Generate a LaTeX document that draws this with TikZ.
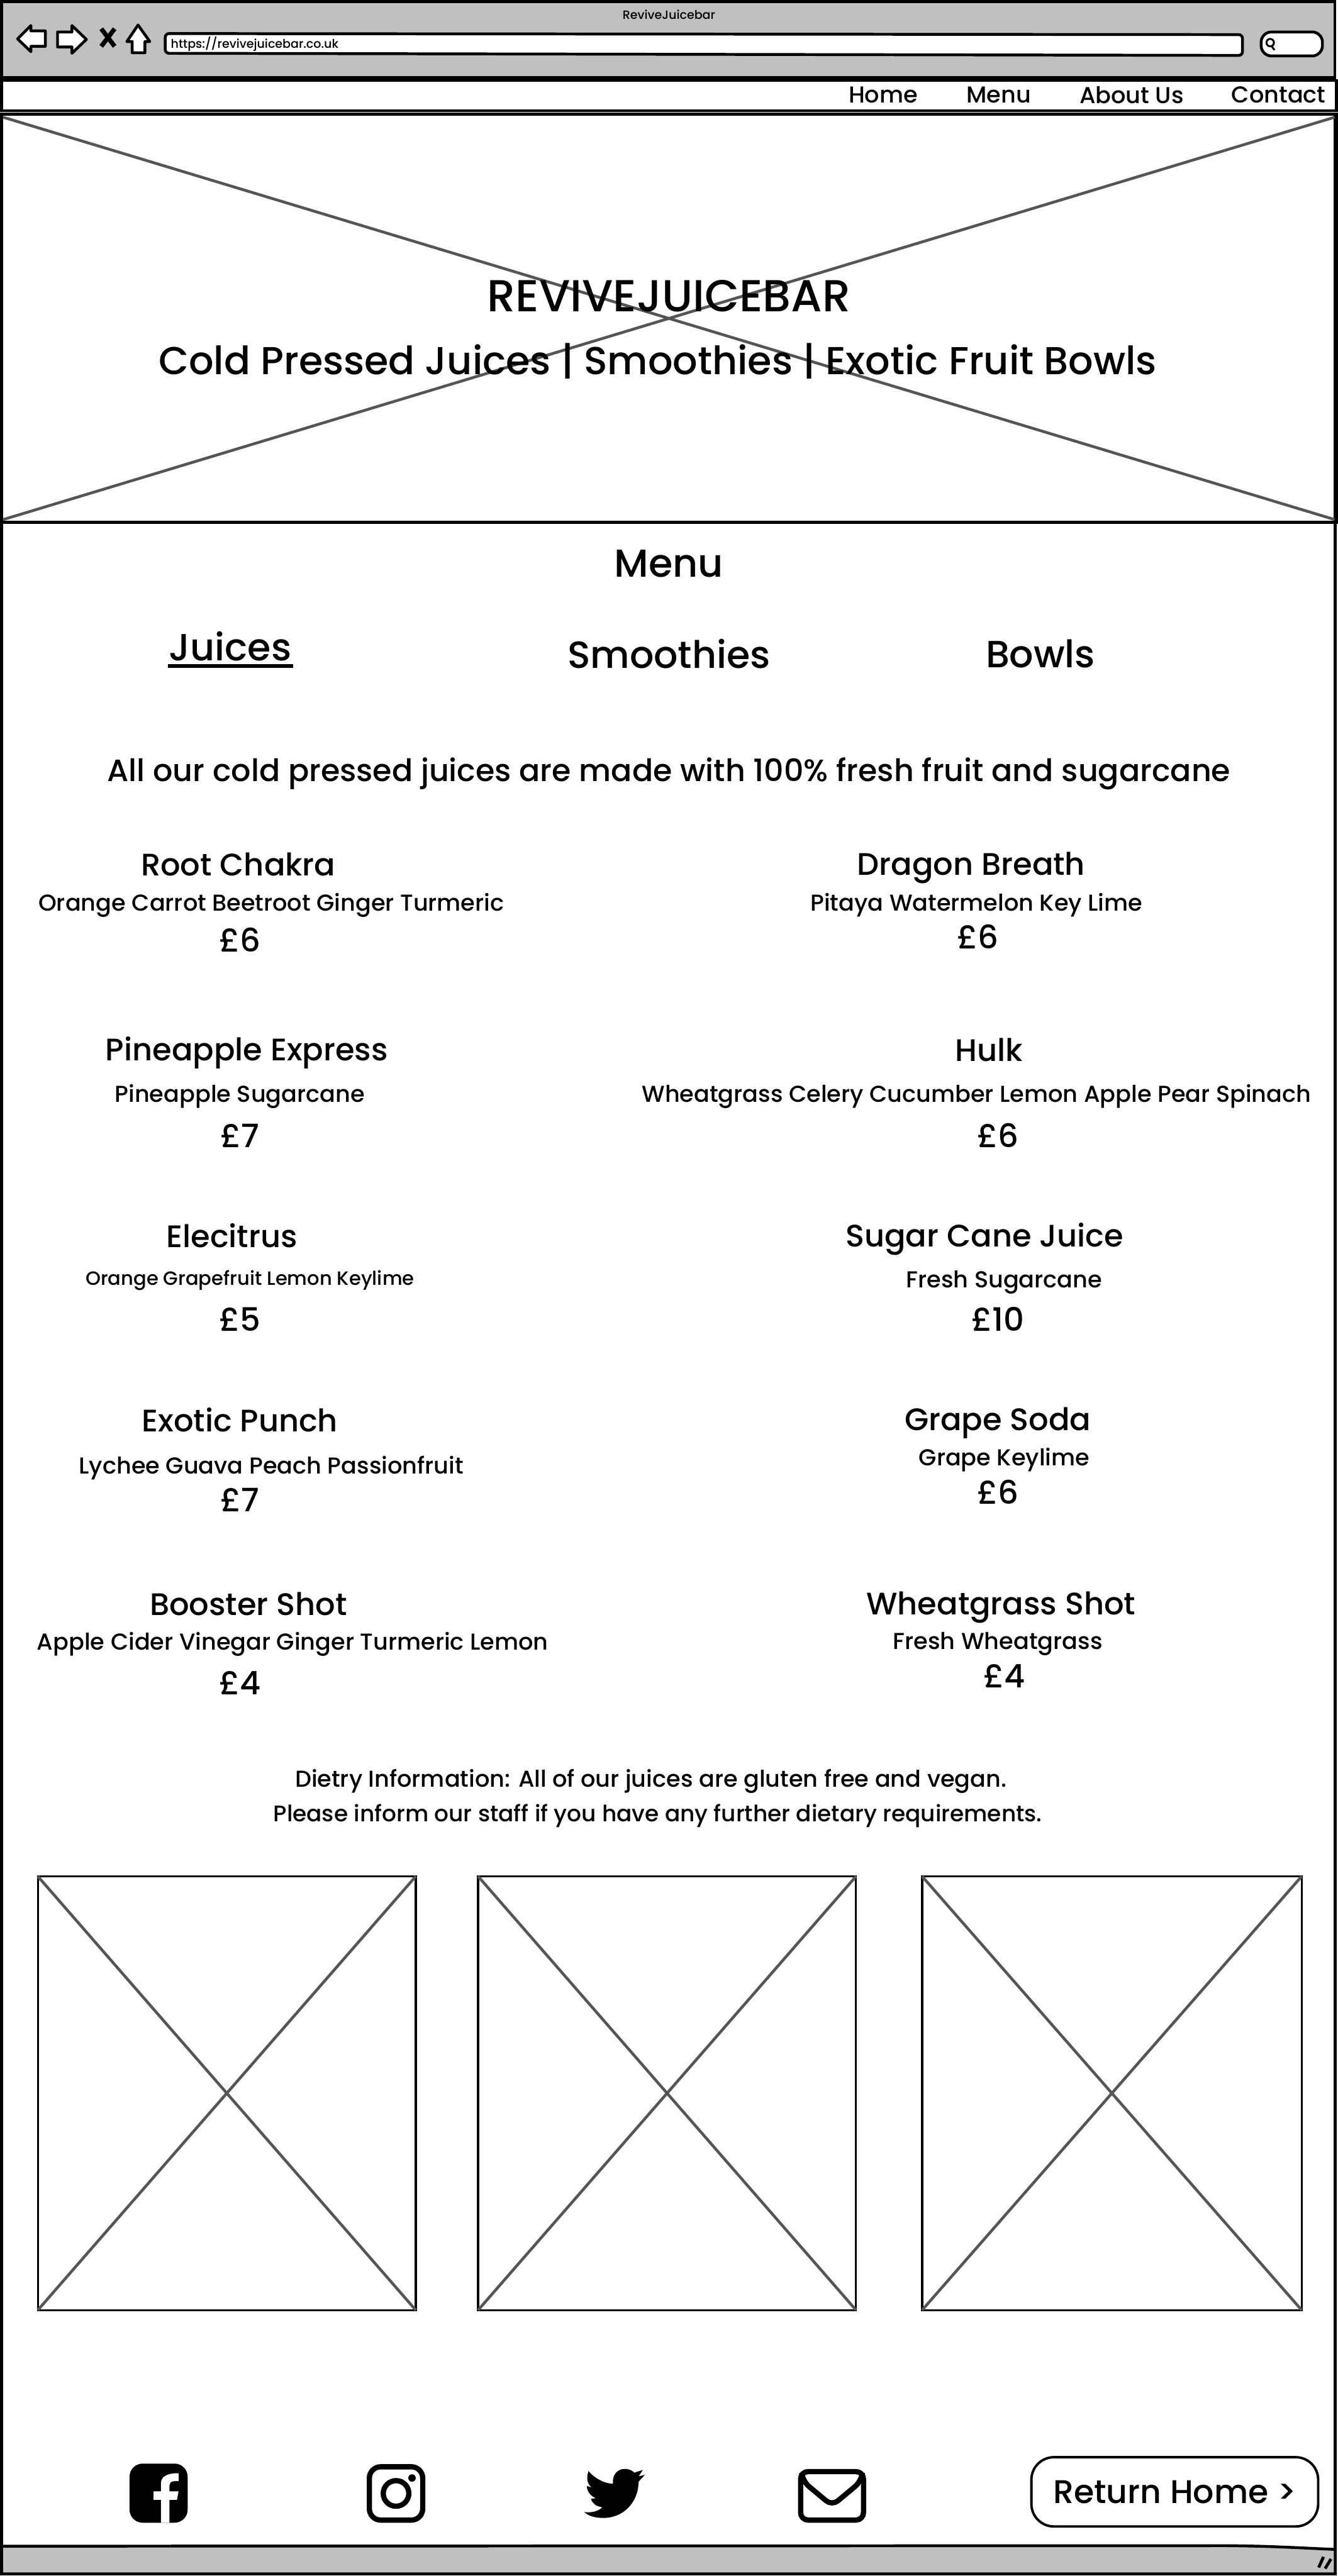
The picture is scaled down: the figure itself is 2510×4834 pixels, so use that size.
\documentclass[tikz,border=0pt]{standalone}
\usepackage{fontspec}
\setmainfont{Poppins}[UprightFont=* Medium]
\usetikzlibrary{positioning}
\definecolor{barfill}{HTML}{C0C0C0}
\definecolor{crossline}{HTML}{555555}
\tikzset{
  frameline/.style = {draw=black, line width=1.5pt},
  thinframe/.style = {draw=black, line width=1.1pt},
  crossed/.style   = {draw=crossline, line width=1.5pt},
  heading/.style   = {font=\fontsize{20.8}{24}\selectfont, inner sep=0pt},
  tabhead/.style   = {font=\fontsize{20.2}{24}\selectfont, inner sep=0pt},
  drinkname/.style = {font=\fontsize{16.6}{20}\selectfont, inner sep=0pt},
  drinktext/.style = {font=\fontsize{12.3}{15}\selectfont, inner sep=0pt},
  drinksmall/.style= {font=\fontsize{10.25}{12}\selectfont, inner sep=0pt},
  navtext/.style   = {font=\fontsize{12.3}{15}\selectfont, inner sep=0pt},
  pricetag/.style  = {font=\fontsize{17.2}{20}\selectfont, inner sep=0pt},
}
\begin{document}
\begin{tikzpicture}[x=0.01cm, y=-0.01cm]
  \useasboundingbox (0,0) rectangle (2510,4834);
  \fill[white] (0,0) rectangle (2510,4834);
  % browser chrome
  \draw[frameline, fill=barfill] (3,3) rectangle (2504,146);
  \node[inner sep=0pt, font=\fontsize{6.4}{8}\selectfont] (title) at (1255,28) {ReviveJuicebar};
  \draw[frameline, line join=round, fill=white] (85,58) -- (58,58) -- (58,48) -- (33,73) -- (58,97) -- (58,87) -- (85,87) -- cycle;
  \draw[frameline, line join=round, fill=white] (108,60) -- (135,60) -- (135,48) -- (162,74) -- (135,100) -- (135,88) -- (108,88) -- cycle;
  \draw[black, line width=2.4pt] (190,54) -- (215,87) (215,54) -- (190,87);
  \draw[frameline, line join=round, fill=white] (259,47) -- (238,78) -- (248,78) -- (248,99) -- (272,99) -- (272,78) -- (281,78) -- cycle;
  \draw[frameline, fill=white, rounded corners=2pt] (310,63) -- (2331,65) -- (2331,104) -- (310,100) -- cycle;
  \node[anchor=west, inner sep=0pt, font=\fontsize{6.4}{8}\selectfont] (url) at (320,83) {https://revivejuicebar.co.uk};
  \draw[frameline, fill=white, rounded corners=5.5pt] (2366,60) rectangle (2481,105);
  \draw[line width=1pt] (2383,80) circle (7) (2386,87) -- (2391,94);
  % nav bar
  \draw[frameline, fill=white] (3,151) rectangle (2507,208);
  \node[navtext] (home) at (1657,178) {Home};
  \node[navtext] (menulink) at (1874,178) {Menu};
  \node[navtext] (about) at (2123,178) {About Us};
  \node[navtext] (contact) at (2399,178) {Contact};
  % page frame
  \draw[frameline] (3,214) rectangle (2505,4830);
  % hero
  \draw[frameline] (3,214) rectangle (2507,980);
  \draw[crossed] (6,220) -- (2504,975) (2504,220) -- (6,975);
  \node[heading, font=\fontsize{23.9}{28}\selectfont] (brand) at (1255,556) {REVIVEJUICEBAR};
  \node[heading] (strap) at (1234,678) {Cold Pressed Juices | Smoothies | Exotic Fruit Bowls};
  % menu header
  \node[heading] (menutitle) at (1255,1058) {Menu};
  \node[tabhead] (juices) at (432,1213) {Juices};
  \draw[line width=1.8pt] (315,1250) -- (550,1250);
  \node[tabhead] (smoothies) at (1255,1227) {Smoothies};
  \node[tabhead] (bowls) at (1952,1227) {Bowls};
  \node[drinkname, font=\fontsize{16.47}{20}\selectfont] (allour) at (1255,1452) {All our cold pressed juices are made with 100\% fresh fruit and sugarcane};
  % left column
  \node[drinkname] (rootname) at (447,1622) {Root Chakra};
  \node[drinktext] (roottext) at (509,1699) {Orange Carrot Beetroot Ginger Turmeric};
  \node[pricetag] (rootprice) at (450,1764) {£6};
  \node[drinkname] (pinename) at (463,1976) {Pineapple Express};
  \node[drinktext] (pinetext) at (450,2058) {Pineapple Sugarcane};
  \node[pricetag] (pineprice) at (450,2131) {£7};
  \node[drinkname] (elecname) at (435,2319) {Elecitrus};
  \node[drinksmall] (electext) at (469,2403) {Orange Grapefruit Lemon Keylime};
  \node[pricetag] (elecprice) at (450,2476) {£5};
  \node[drinkname] (exoticname) at (450,2664) {Exotic Punch};
  \node[drinktext] (exotictext) at (509,2755) {Lychee Guava Peach Passionfruit};
  \node[pricetag] (exoticprice) at (450,2815) {£7};
  \node[drinkname] (boostname) at (466,3010) {Booster Shot};
  \node[drinktext] (boosttext) at (549,3085) {Apple Cider Vinegar Ginger Turmeric Lemon};
  \node[pricetag] (boostprice) at (450,3158) {£4};
  % right column
  \node[drinkname] (dragonname) at (1822,1628) {Dragon Breath};
  \node[drinktext] (dragontext) at (1832,1699) {Pitaya Watermelon Key Lime};
  \node[pricetag] (dragonprice) at (1835,1758) {£6};
  \node[drinkname] (hulkname) at (1856,1970) {Hulk};
  \node[drinktext] (hulktext) at (1832,2058) {Wheatgrass Celery Cucumber Lemon Apple Pear Spinach};
  \node[pricetag] (hulkprice) at (1872,2131) {£6};
  \node[drinkname] (canename) at (1847,2325) {Sugar Cane Juice};
  \node[drinktext] (canetext) at (1884,2406) {Fresh Sugarcane};
  \node[pricetag] (caneprice) at (1872,2476) {£10};
  \node[drinkname] (grapename) at (1872,2670) {Grape Soda};
  \node[drinktext] (grapetext) at (1884,2739) {Grape Keylime};
  \node[pricetag] (grapeprice) at (1872,2800) {£6};
  \node[drinkname] (shotname) at (1878,3016) {Wheatgrass Shot};
  \node[drinktext] (shottext) at (1872,3085) {Fresh Wheatgrass};
  \node[pricetag] (shotprice) at (1884,3145) {£4};
  % dietary note
  \node[drinktext] (dietry) at (1221,3343) {Dietry Information: All of our juices are gluten free and vegan.};
  \node[drinktext, font=\fontsize{12.05}{15}\selectfont] (inform) at (1234,3408) {Please inform our staff if you have any further dietary requirements.};
  % image placeholders
  \draw[thinframe] (71,3521) rectangle (780,4335);
  \draw[crossed] (71,3521) -- (780,4335) (780,3521) -- (71,4335);
  \draw[thinframe] (897,3521) rectangle (1606,4335);
  \draw[crossed] (897,3521) -- (1606,4335) (1606,3521) -- (897,4335);
  \draw[thinframe] (1730,3521) rectangle (2442,4335);
  \draw[crossed] (1730,3521) -- (2442,4335) (2442,3521) -- (1730,4335);
  % social icons
  \fill[black, rounded corners=7pt] (243,4623) rectangle (352,4734);
  \fill[white] (302,4734) -- (302,4691) -- (288,4691) -- (288,4675) -- (302,4675) -- (302,4660)
    .. controls (302,4648) and (312,4641) .. (335,4641) -- (335,4656) -- (327,4656)
    .. controls (320,4656) and (318,4660) .. (318,4665) -- (318,4675) -- (335,4675) -- (332,4691) -- (318,4691) -- (318,4734) -- cycle;
  \draw[black, line width=2.8pt, rounded corners=6pt] (693,4629) rectangle (793,4729);
  \draw[black, line width=2.8pt] (743,4679) circle (24);
  \fill[black] (773,4650) circle (7);
  \fill[black] (1096,4714) .. controls (1115,4716) and (1125,4710) .. (1130,4705)
    .. controls (1118,4703) and (1111,4698) .. (1109,4689) -- (1118,4688)
    .. controls (1108,4684) and (1101,4675) .. (1101,4665) -- (1110,4668)
    .. controls (1101,4660) and (1100,4650) .. (1104,4637)
    .. controls (1115,4650) and (1132,4660) .. (1150,4661)
    .. controls (1148,4645) and (1158,4633) .. (1172,4633)
    .. controls (1180,4633) and (1186,4636) .. (1190,4640) -- (1206,4635) -- (1198,4647) -- (1210,4644) -- (1198,4657)
    .. controls (1198,4695) and (1170,4725) .. (1132,4725)
    .. controls (1118,4725) and (1105,4722) .. (1096,4714) -- cycle;
  \draw[black, line width=2.8pt, rounded corners=4pt] (1502,4638) rectangle (1620,4729);
  \draw[black, line width=2.8pt, line join=round, rounded corners=4pt] (1504,4640) -- (1507,4657) -- (1561,4702) -- (1615,4657) -- (1618,4640);
  % return home button
  \node[draw=black, line width=1.3pt, rounded corners=12pt, minimum width=538*0.01cm, minimum height=130*0.01cm,
    font=\fontsize{17.5}{21}\selectfont, inner sep=0pt] (returnhome) at (2204,4676) {Return Home >};
  % status bar
  \draw[frameline, fill=barfill] (3,4778) -- (2300,4777) .. controls (2400,4778) and (2450,4782) .. (2505,4784) -- (2505,4830) -- (3,4830) -- cycle;
  \draw[line width=1.6pt] (2474,4818) -- (2483,4798) (2486,4820) -- (2497,4802);
\end{tikzpicture}
\end{document}
